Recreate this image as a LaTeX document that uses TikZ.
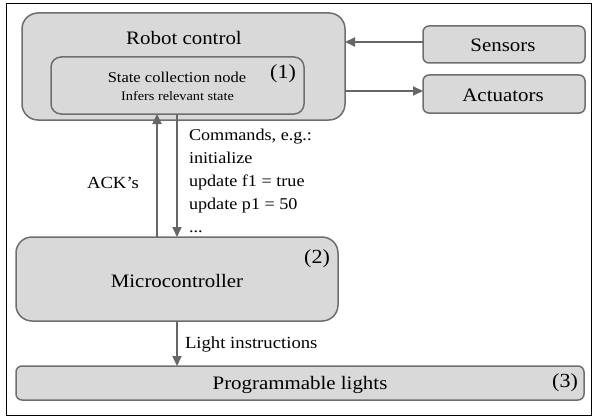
\documentclass[tikz,border=0pt]{standalone}
\usepackage{fontspec}
\setmainfont{Liberation Serif}
\usetikzlibrary{arrows.meta}
\definecolor{boxfill}{HTML}{D9D9D9}
\definecolor{boxline}{HTML}{6E6E6E}
\definecolor{arrcol}{HTML}{666666}
\tikzset{
  box/.style={draw=boxline, fill=boxfill, line width=1.5pt, inner sep=0pt, outer sep=0pt},
  txt/.style={inner sep=0pt, outer sep=0pt, text=black, xscale=1.1},
  arr/.style={draw=arrcol, line width=2pt, -{Triangle[length=10pt,width=9pt]}},
}
\newcommand{\fs}[1]{\fontsize{#1}{#1}\selectfont}
\begin{document}
\begin{tikzpicture}[x=1pt,y=-1pt]
\useasboundingbox (0,0) rectangle (593,417);
\node[draw=black, line width=1pt, minimum width=585pt, minimum height=411pt, inner sep=0pt] (frame) at (298.5,209.5) {};
% Robot control
\node[box, rounded corners=16pt, minimum width=323pt, minimum height=107pt] (rc) at (183.5,66.5) {};
\node[box, rounded corners=10pt, minimum width=253pt, minimum height=57pt] (inner) at (177.5,85.5) {};
% Sensors / Actuators
\node[box, rounded corners=6pt, minimum width=162pt, minimum height=37pt] (sens) at (504,44.5) {};
\node[box, rounded corners=6pt, minimum width=162pt, minimum height=38pt] (act) at (504,94) {};
% Microcontroller
\node[box, rounded corners=16pt, minimum width=322pt, minimum height=84pt] (mc) at (177,279) {};
% Programmable lights
\node[box, rounded corners=6pt, minimum width=568pt, minimum height=34pt] (pl) at (300,383) {};
\begin{scope}[every node/.append style={transform shape}]
\node[txt, anchor=base, font=\fs{19}] (rct) at (184,45) {Robot control};
\node[txt, anchor=base, font=\fs{15}] (in1) at (177,83) {State collection node};
\node[txt, anchor=base, font=\fs{13}] (in2) at (177.5,100) {Infers relevant state};
\node[txt, font=\fs{20}] (n1) at (283,74) {(1)};
\node[txt, anchor=base, font=\fs{19}] (senst) at (503,52) {Sensors};
\node[txt, anchor=base, font=\fs{19}] (actt) at (503,102) {Actuators};
\node[txt, anchor=base, font=\fs{19}] (mct) at (177,287) {Microcontroller};
\node[txt, font=\fs{20}] (n2) at (317,259) {(2)};
\node[txt, anchor=base, font=\fs{19}] (plt) at (300,389) {Programmable lights};
\node[txt, font=\fs{20}] (n3) at (565,383) {(3)};
\node[txt, anchor=base, font=\fs{17}] (ack) at (113,188) {ACK’s};
\node[txt, anchor=base west, font=\fs{16.5}] (c1) at (189,140) {Commands, e.g.:};
\node[txt, anchor=base west, font=\fs{16.5}] (c2) at (189,163) {initialize};
\node[txt, anchor=base west, font=\fs{16.5}] (c3) at (189,186) {update f1 = true};
\node[txt, anchor=base west, font=\fs{16.5}] (c4) at (189,209) {update p1 = 50};
\node[txt, anchor=base west, font=\fs{16.5}] (c5) at (189,232) {...};
\node[txt, anchor=base west, font=\fs{17}] (li) at (185,348) {Light instructions};
\end{scope}
% connectors
\draw[arr] ([yshift=2.5pt]sens.west) -- ([yshift=2.5pt]sens.west -| rc.east);
\draw[arr] ([yshift=3pt]act.west -| rc.east) -- ([yshift=3pt]act.west);
\coordinate (ackx) at (157,0);
\coordinate (cmdx) at (177,0);
\draw[arr] (ackx |- mc.north) -- (ackx |- inner.south);
\draw[arr] (cmdx |- inner.south) -- (cmdx |- mc.north);
\draw[arr] (cmdx |- mc.south) -- (cmdx |- pl.north);
\end{tikzpicture}
\end{document}
